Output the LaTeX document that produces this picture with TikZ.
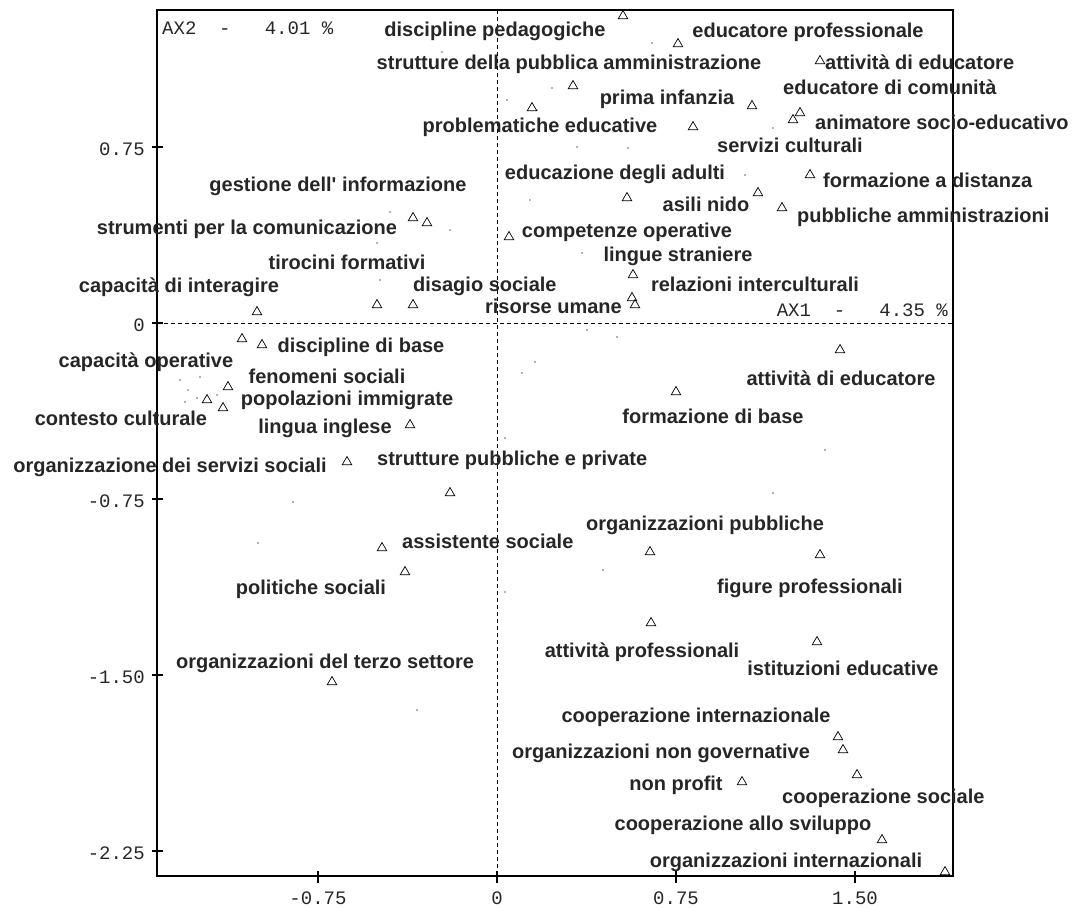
\documentclass[tikz,border=0pt]{standalone}
\usepackage{fontspec}
\setmainfont{Liberation Sans}
\newfontfamily\axfont{Liberation Mono}
\usepackage{tikz}
\usetikzlibrary{positioning, shapes.geometric}

\begin{document}
\begin{tikzpicture}[
		x=1pt, y=-1pt,
		tri/.style={draw, regular polygon, regular polygon sides=3, minimum size=11pt, inner sep=0pt, line width=0.7pt},
		lbl/.style={font=\fontsize{20}{22}\selectfont\bfseries, text=black!85, inner sep=0pt, text height=14pt, text depth=4pt},
		num/.style={font=\axfont\fontsize{19}{21}\selectfont, text=black!85, inner sep=0pt},
		zeroline/.style={line width=1pt, dash pattern=on 4pt off 3pt},
		plotframe/.style={line width=1.2pt}
	]
	\useasboundingbox (0,0) rectangle (1076,909);

	\coordinate (sw) at (157,876);
	\coordinate (ne) at (953,10);
	\coordinate (xl) at (157,323);
	\coordinate (xr) at (953,323);
	\coordinate (yt) at (497,10);
	\coordinate (yb) at (497,876);

	\draw[zeroline] (xl) -- (xr);
	\draw[zeroline] (yt) -- (yb);
	\draw[plotframe] (sw) rectangle (ne);

	\foreach \y/\t [count=\i] in {147/0.75, 323/0, 499/-0.75, 675/-1.50, 851/-2.25} {
		\draw[plotframe] (152,\y) -- (163,\y);
		\node[num, anchor=east] (ylab\i) at (145,\y+2) {\t};
	}
	\foreach \x/\t [count=\i] in {318/-0.75, 497/0, 676/0.75, 855/1.50} {
		\draw[plotframe] (\x,871) -- (\x,883);
		\node[num] (xlab\i) at (\x,898) {\t};
	}

	\node[num, anchor=west] (ax2) at (162,28) {AX2~~-~~~4.01~\%};
	\node[num, anchor=east] (ax1) at (948,310) {AX1~~-~~~4.35~\%};

	\foreach \x/\y in {442/52, 507/100, 652/43, 552/88, 537/110, 773/128, 577/147, 628/148,
		390/212, 450/230, 377/243, 380/280, 745/175, 530/200, 582/253, 180/380, 188/390,
		185/402, 197/398, 217/395, 200/377, 293/502, 587/330, 617/337, 535/362, 522/373,
		505/438, 825/450, 773/493, 258/543, 417/710, 603/570, 505/592}
		\fill[black!60] (\x,\y) circle (0.9);

	\foreach \x/\y [count=\i] in {623/16, 678/44, 820/61, 573/86, 532/108, 752/106, 693/127,
		793/120, 800/113, 810/175, 627/198, 758/193, 782/208, 413/218, 427/223, 509/237,
		633/275, 632/298, 635/305, 257/312, 377/305, 413/305, 242/339, 262/345, 228/387,
		207/400, 223/408, 410/425, 347/462, 450/493, 840/350, 676/392, 382/548, 405/572,
		650/552, 820/555, 651/623, 817/642, 332/682, 838/737, 843/750, 857/775, 742/782,
		882/840, 945/872}
		\node[tri] (p\i) at (\x,\y) {};

	\node[lbl] (dped) at (495,32) {discipline pedagogiche};
	\node[lbl] (eprof) at (808,33) {educatore professionale};
	\node[lbl] (spa) at (569,65) {strutture della pubblica amministrazione};
	\node[lbl, anchor=west] (aed1) at (825,65) {attività di educatore};
	\node[lbl, anchor=west] (ecom) at (783,90) {educatore di comunità};
	\node[lbl] (pinf) at (667,100) {prima infanzia};
	\node[lbl] (probl) at (540,128) {problematiche educative};
	\node[lbl, anchor=west] (anim) at (815,125) {animatore socio-educativo};
	\node[lbl] (scult) at (790,148) {servizi culturali};
	\node[lbl] (gest) at (338,187) {gestione dell\textquotesingle{} informazione};
	\node[lbl] (eadu) at (615,175) {educazione degli adulti};
	\node[lbl, anchor=west] (fdist) at (823,183) {formazione a distanza};
	\node[lbl] (asili) at (706,207) {asili nido};
	\node[lbl, anchor=west] (pamm) at (797,218) {pubbliche amministrazioni};
	\node[lbl] (strum) at (247,230) {strumenti per la comunicazione};
	\node[lbl] (comp) at (627,233) {competenze operative};
	\node[lbl] (lstr) at (678,257) {lingue straniere};
	\node[lbl] (tiro) at (347,265) {tirocini formativi};
	\node[lbl] (capi) at (179,288) {capacità di interagire};
	\node[lbl, anchor=west] (disa) at (413,287) {disagio sociale};
	\node[lbl] (rint) at (755,287) {relazioni interculturali};
	\node[lbl, anchor=east] (risu) at (622,308) {risorse umane};
	\node[lbl] (dbase) at (361,347) {discipline di base};
	\node[lbl] (cope) at (146,362) {capacità operative};
	\node[lbl] (aed2) at (841,380) {attività di educatore};
	\node[lbl] (fsoc) at (327,378) {fenomeni sociali};
	\node[lbl] (pimm) at (347,400) {popolazioni immigrate};
	\node[lbl] (fbase) at (713,418) {formazione di base};
	\node[lbl] (ccult) at (121,420) {contesto culturale};
	\node[lbl] (ling) at (325,428) {lingua inglese};
	\node[lbl] (oss) at (170,467) {organizzazione dei servizi sociali};
	\node[lbl, anchor=west] (spp) at (377,460) {strutture pubbliche e private};
	\node[lbl] (opub) at (705,525) {organizzazioni pubbliche};
	\node[lbl, anchor=west] (asoc) at (402,543) {assistente sociale};
	\node[lbl] (psoc) at (311,589) {politiche sociali};
	\node[lbl] (fprof) at (810,588) {figure professionali};
	\node[lbl] (aprof) at (642,652) {attività professionali};
	\node[lbl] (ised) at (843,670) {istituzioni educative};
	\node[lbl] (ots) at (325,663) {organizzazioni del terzo settore};
	\node[lbl] (coopi) at (696,717) {cooperazione internazionale};
	\node[lbl] (ong) at (661,753) {organizzazioni non governative};
	\node[lbl] (nprof) at (676,785) {non profit};
	\node[lbl, anchor=west] (csoc) at (782,798) {cooperazione sociale};
	\node[lbl] (csvi) at (743,825) {cooperazione allo sviluppo};
	\node[lbl] (oint) at (786,862) {organizzazioni internazionali};
\end{tikzpicture}
\end{document}
